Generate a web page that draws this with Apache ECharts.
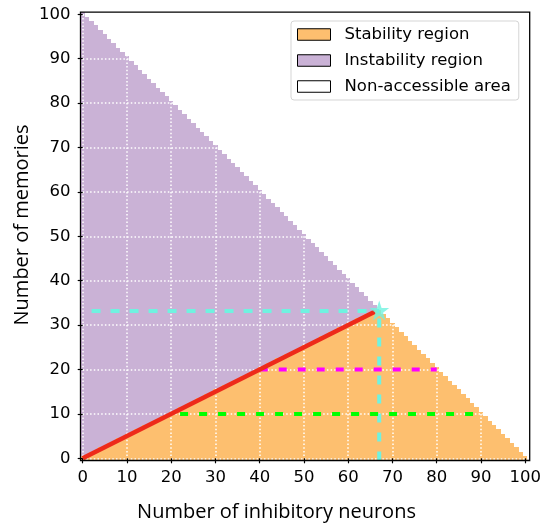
<!DOCTYPE html>
<html>
<head>
<meta charset="utf-8">
<script src="https://cdn.jsdelivr.net/npm/echarts@6/dist/echarts.min.js"></script>
<style>html,body{margin:0;padding:0;background:#fff;}#c{width:544px;height:527px;}</style>
</head>
<body>
<div id="c"></div>
<script>
// x = number of inhibitory neurons (0..100)
const neurons = [0,1,2,3,4,5,6,7,8,9,10,11,12,13,14,15,16,17,18,19,20,21,22,23,24,25,26,27,28,29,30,31,32,33,34,35,36,37,38,39,40,41,42,43,44,45,46,47,48,49,50,51,52,53,54,55,56,57,58,59,60,61,62,63,64,65,66,67,68,69,70,71,72,73,74,75,76,77,78,79,80,81,82,83,84,85,86,87,88,89,90,91,92,93,94,95,96,97,98,99,100];
// highest accessible number of memories per column
const accessibleTop = [100,99,98,97,96,95,94,93,92,91,90,89,88,87,86,85,84,83,82,81,80,79,78,77,76,75,74,73,72,71,70,69,68,67,66,65,64,63,62,61,60,59,58,57,56,55,54,53,52,51,50,49,48,47,46,45,44,43,42,41,40,39,38,37,36,35,34,33,32,31,30,29,28,27,26,25,24,23,22,21,20,19,18,17,16,15,14,13,12,11,10,9,8,7,6,5,4,3,2,1,0];
// highest stable number of memories per column
const stableTop = [0,0,1,1,2,2,3,3,4,4,5,5,6,6,7,7,8,8,9,9,10,10,11,11,12,12,13,13,14,14,15,15,16,16,17,17,18,18,19,19,20,20,21,21,22,22,23,23,24,24,25,25,26,26,27,27,28,28,29,29,30,30,31,31,32,32,33,33,32,31,30,29,28,27,26,25,24,23,22,21,20,19,18,17,16,15,14,13,12,11,10,9,8,7,6,5,4,3,2,1,0];
// reference lines
const redLine = [[0,0],[66,33]];
const cyanH = [[2,33.2],[67,33.2]];
const cyanV = [[67,-0.5],[67,33.2]];
const magentaH = [[40,20],[80,20]];
const greenH = [[22,10],[90.5,10]];
const star = [[67,33.3]];
const xTicks = [0,10,20,30,40,50,60,70,80,90,100];
const yTicks = [0,10,20,30,40,50,60,70,80,90,100];

const ORANGE = '#fdbf6f', PURPLE = '#cab2d6', CYAN = '#70f2e0';

const stableData = neurons.map((x,i) => [x, -0.5, stableTop[i] + 0.5]);
const unstableData = [];
neurons.forEach((x,i) => { if (accessibleTop[i] > stableTop[i]) unstableData.push([x, stableTop[i] + 0.5, accessibleTop[i] + 0.5]); });

function colRenderer(color) {
  return function (params, api) {
    const x = api.value(0), y0 = api.value(1), y1 = api.value(2);
    const p0 = api.coord([x - 0.5, y1]);
    const p1 = api.coord([x + 0.5, y0]);
    const xa = Math.round(p0[0]), xb = Math.round(p1[0]);
    const ya = Math.round(p0[1]), yb = Math.round(p1[1]);
    return {
      type: 'rect',
      shape: { x: xa, y: ya, width: xb - xa, height: yb - ya },
      style: { fill: color }
    };
  };
}

const chart = echarts.init(document.getElementById('c'), null, { renderer: 'canvas' });
const tickFont = { fontFamily: 'DejaVu Sans', fontSize: 16.5, color: '#000' };
const splitStyle = { show: true, lineStyle: { color: '#ffffff', width: 1.5, type: [1.5, 2.2] } };

chart.setOption({
  animation: false,
  backgroundColor: '#fff',
  grid: { left: 82.7, top: 14.3, width: 444.8, height: 444, containLabel: false },
  xAxis: {
    type: 'value', min: 0, max: 100, interval: 10, offset: 2.2, z: 3,
    axisLine: { show: false },
    axisTick: { show: true, length: 5, lineStyle: { color: '#000', width: 1.2 } },
    axisLabel: Object.assign({ margin: 9 }, tickFont),
    splitLine: splitStyle
  },
  yAxis: {
    type: 'value', min: 0, max: 100, interval: 10, offset: 2.2, z: 3,
    axisLine: { show: false },
    axisTick: { show: true, length: 5, lineStyle: { color: '#000', width: 1.2 } },
    axisLabel: Object.assign({ margin: 10 }, tickFont),
    splitLine: splitStyle
  },
  legend: {
    orient: 'vertical', left: 291, top: 21,
    padding: [5, 8, 5, 6],
    itemGap: 9, itemWidth: 33, itemHeight: 11.5,
    backgroundColor: 'rgba(255,255,255,0.85)',
    borderColor: '#d5d5d5', borderWidth: 1, borderRadius: 3,
    icon: 'rect',
    itemStyle: { borderColor: '#000', borderWidth: 1 },
    textStyle: { fontFamily: 'DejaVu Sans', fontSize: 16.5, color: '#000', lineHeight: 17, padding: [0, 0, 0, 9] },
    data: ['Stability region', 'Instability region', 'Non-accessible area'],
    selectedMode: false,
    z: 20
  },
  series: [
    { name: 'Stability region', type: 'custom', renderItem: colRenderer(ORANGE), data: stableData, itemStyle: { color: ORANGE }, z: 1, clip: false, encode: { x: 0, y: [1, 2] } },
    { name: 'Instability region', type: 'custom', renderItem: colRenderer(PURPLE), data: unstableData, itemStyle: { color: PURPLE }, z: 1, clip: false, encode: { x: 0, y: [1, 2] } },
    { name: 'Non-accessible area', type: 'custom', renderItem: colRenderer('#ffffff'), data: [], itemStyle: { color: '#ffffff' }, z: 1 },
    { type: 'line', data: cyanH, symbol: 'none', lineStyle: { color: CYAN, width: 4, type: [9, 10] }, z: 5, silent: true },
    { type: 'line', data: cyanV, symbol: 'none', lineStyle: { color: CYAN, width: 4, type: [9, 10] }, z: 5, silent: true },
    { type: 'line', data: magentaH, symbol: 'none', lineStyle: { color: '#ff00ff', width: 4, type: [8, 11] }, z: 5, silent: true },
    { type: 'line', data: greenH, symbol: 'none', lineStyle: { color: '#00ff00', width: 4, type: [8, 11] }, z: 5, silent: true },
    { type: 'line', data: redLine, symbol: 'none', lineStyle: { color: '#ee2a1a', width: 4.6 }, z: 6, silent: true },
    { type: 'scatter', data: star, symbol: 'path://M0,-1 L0.2245,-0.309 L0.951,-0.309 L0.363,0.118 L0.588,0.809 L0,0.382 L-0.588,0.809 L-0.363,0.118 L-0.951,-0.309 L-0.2245,-0.309 Z', symbolSize: 20, itemStyle: { color: CYAN }, z: 7, silent: true }
  ],
  graphic: [
    { type: 'rect', z: 100, silent: true, shape: { x: 80.5, y: 12.1, width: 449.2, height: 448.4 }, style: { fill: 'none', stroke: '#000', lineWidth: 1.3 } },
    { type: 'text', z: 100, silent: true, x: 276.5, y: 512, style: { text: 'Number of inhibitory neurons', x: 0, y: 0, align: 'center', verticalAlign: 'middle', font: '20px "Open Sans"', fill: '#000' } },
    { type: 'text', z: 100, silent: true, x: 22, y: 225, rotation: Math.PI / 2, style: { text: 'Number of memories', x: 0, y: 0, align: 'center', verticalAlign: 'middle', font: '20px "Open Sans"', fill: '#000' } }
  ]
});
</script>
</body>
</html>
